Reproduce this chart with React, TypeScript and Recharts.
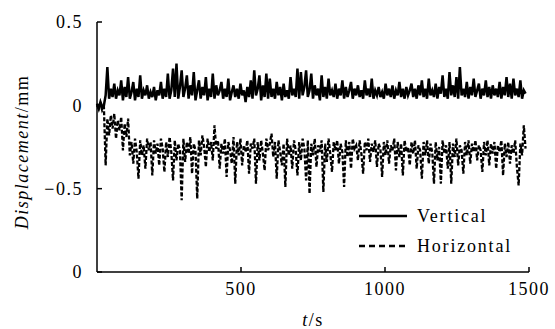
import React from "react";
import { LineChart, Line, XAxis, YAxis } from "recharts";

// sampled every 6 s, t = 0 .. 1488
const step = 6;

const vertical = [
  0.01, -0.02, 0.02, -0.01, 0.0, 0.06, 0.23, 0.04, 0.1, 0.05,
  0.13, 0.04, 0.09, 0.06, 0.15, 0.03, 0.11, 0.05, 0.17, 0.04,
  0.08, 0.14, 0.03, 0.1, 0.05, 0.18, 0.04, 0.09, 0.06, 0.12,
  0.04, 0.08, 0.05, 0.11, 0.03, 0.09, 0.06, 0.14, 0.04, 0.1,
  0.05, 0.19, 0.04, 0.09, 0.22, 0.05, 0.25, 0.04, 0.11, 0.21,
  0.05, 0.1, 0.18, 0.04, 0.12, 0.06, 0.2, 0.03, 0.09, 0.15,
  0.04, 0.11, 0.06, 0.17, 0.03, 0.1, 0.05, 0.19, 0.04, 0.12,
  0.06, 0.09, 0.14, 0.04, 0.1, 0.05, 0.16, 0.03, 0.08, 0.12,
  0.05, 0.1, 0.04, 0.13, 0.06, 0.09, 0.02, 0.11, 0.05, 0.15,
  0.04, 0.21, 0.06, 0.1, 0.18, 0.03, 0.12, 0.05, 0.19, 0.04,
  0.16, 0.05, 0.1, 0.04, 0.14, 0.06, 0.11, 0.03, 0.13, 0.05,
  0.09, 0.04, 0.17, 0.06, 0.1, 0.05, 0.22, 0.04, 0.2, 0.06,
  0.11, 0.21, 0.05, 0.09, 0.19, 0.04, 0.12, 0.06, 0.1, 0.03,
  0.18, 0.05, 0.11, 0.04, 0.16, 0.06, 0.09, 0.05, 0.13, 0.04,
  0.1, 0.06, 0.15, 0.04, 0.11, 0.05, 0.09, 0.14, 0.04, 0.1,
  0.06, 0.12, 0.05, 0.09, 0.04, 0.15, 0.06, 0.1, 0.05, 0.16,
  0.04, 0.09, 0.06, 0.11, 0.05, 0.08, 0.04, 0.13, 0.06, 0.1,
  0.05, 0.12, 0.04, 0.09, 0.06, 0.14, 0.05, 0.1, 0.04, 0.11,
  0.06, 0.09, 0.13, 0.05, 0.1, 0.04, 0.12, 0.06, 0.15, 0.05,
  0.1, 0.04, 0.16, 0.06, 0.09, 0.05, 0.13, 0.04, 0.11, 0.07,
  0.18, 0.05, 0.1, 0.04, 0.2, 0.06, 0.12, 0.05, 0.17, 0.04,
  0.23, 0.06, 0.1, 0.05, 0.14, 0.04, 0.11, 0.06, 0.16, 0.05,
  0.09, 0.13, 0.04, 0.1, 0.06, 0.15, 0.05, 0.11, 0.04, 0.12,
  0.06, 0.1, 0.05, 0.14, 0.04, 0.11, 0.06, 0.17, 0.05, 0.13,
  0.04, 0.16, 0.06, 0.1, 0.05, 0.15, 0.04, 0.09, 0.07,
];

const horizontal = [
  0.0, -0.02, 0.01, -0.03, -0.01, -0.36, -0.08, -0.18, -0.06, -0.14,
  -0.05, -0.2, -0.09, -0.15, -0.07, -0.27, -0.11, -0.19, -0.08, -0.3,
  -0.22, -0.35, -0.2, -0.28, -0.44, -0.21, -0.3, -0.24, -0.38, -0.2,
  -0.27, -0.22, -0.42, -0.21, -0.29, -0.23, -0.36, -0.2, -0.26, -0.4,
  -0.22, -0.31, -0.19, -0.28, -0.45, -0.21, -0.33, -0.23, -0.27, -0.57,
  -0.2, -0.34, -0.22, -0.29, -0.19, -0.41, -0.23, -0.27, -0.56, -0.21,
  -0.3, -0.18, -0.25, -0.37, -0.2, -0.28, -0.22, -0.33, -0.12, -0.26,
  -0.21, -0.38, -0.23, -0.29, -0.2, -0.43, -0.22, -0.27, -0.35, -0.19,
  -0.47, -0.22, -0.3, -0.2, -0.36, -0.24, -0.28, -0.21, -0.41, -0.23,
  -0.26, -0.2, -0.47, -0.22, -0.33, -0.21, -0.29, -0.39, -0.2, -0.27,
  -0.23, -0.17, -0.31, -0.22, -0.44, -0.21, -0.28, -0.36, -0.23, -0.49,
  -0.2, -0.3, -0.24, -0.38, -0.21, -0.27, -0.42, -0.22, -0.33, -0.2,
  -0.26, -0.45, -0.21, -0.53, -0.23, -0.3, -0.2, -0.37, -0.24, -0.28,
  -0.21, -0.52, -0.23, -0.34, -0.2, -0.29, -0.4, -0.22, -0.27, -0.21,
  -0.35, -0.23, -0.28, -0.49, -0.21, -0.31, -0.22, -0.38, -0.2, -0.26,
  -0.24, -0.33, -0.21, -0.29, -0.41, -0.22, -0.27, -0.2, -0.34, -0.23,
  -0.28, -0.21, -0.37, -0.23, -0.26, -0.43, -0.22, -0.3, -0.21, -0.35,
  -0.24, -0.27, -0.2, -0.39, -0.22, -0.31, -0.23, -0.42, -0.21, -0.28,
  -0.25, -0.36, -0.22, -0.29, -0.21, -0.38, -0.24, -0.27, -0.44, -0.22,
  -0.3, -0.21, -0.35, -0.23, -0.28, -0.47, -0.22, -0.33, -0.25, -0.47,
  -0.21, -0.29, -0.24, -0.38, -0.22, -0.47, -0.23, -0.31, -0.2, -0.36,
  -0.24, -0.27, -0.41, -0.22, -0.3, -0.21, -0.35, -0.23, -0.28, -0.21,
  -0.33, -0.24, -0.27, -0.4, -0.22, -0.3, -0.21, -0.36, -0.23, -0.29,
  -0.22, -0.38, -0.24, -0.28, -0.21, -0.42, -0.23, -0.31, -0.22, -0.35,
  -0.24, -0.29, -0.21, -0.37, -0.48, -0.23, -0.3, -0.12, -0.26,
];

const xTicks = [500, 1000, 1500];
const yTicks = [-1, -0.5, 0, 0.5];

const data = vertical.map((v, i) => ({ t: i * step, vertical: v, horizontal: horizontal[i] }));

const font = '"Liberation Serif", "Times New Roman", serif';
const tickStyle = { fontFamily: font, fontSize: 18, fill: "#000", letterSpacing: 1.5 };

// the original figure prints "0" at the bottom of the y axis
const fmtY = (v: number) => (v === -1 ? "0" : v < 0 ? "\u2212" + Math.abs(v) : String(v));

function LegendBox() {
  const row = (dash: string | undefined, label: string) => (
    <div style={{ display: "flex", alignItems: "center", height: 30 }}>
      <svg width={52} height={10}>
        <line x1={2} y1={5} x2={50} y2={5} stroke="#000" strokeWidth={2.5} strokeDasharray={dash} />
      </svg>
      <span style={{ marginLeft: 8, fontFamily: font, fontSize: 18, letterSpacing: 1.8, color: "#000" }}>{label}</span>
    </div>
  );
  return (
    <div style={{ position: "absolute", left: 357, top: 201 }}>
      {row(undefined, "Vertical")}
      {row("6 4", "Horizontal")}
    </div>
  );
}

export default function App() {
  return (
    <div style={{ position: "absolute", left: 0, top: 0, width: 555, height: 329, background: "#fff" }}>
      <LineChart width={555} height={329} data={data} margin={{ top: 22, right: 26, bottom: 0, left: 0 }}>
        <XAxis
          dataKey="t"
          type="number"
          domain={[0, 1500]}
          ticks={xTicks}
          height={57}
          tickSize={-5}
          tickMargin={15}
          axisLine={{ stroke: "#000", strokeWidth: 1.5 }}
          tickLine={{ stroke: "#000", strokeWidth: 1.5 }}
          tick={tickStyle}
          label={{
            content: () => (
              <text x={313} y={326} textAnchor="middle" fontFamily={font} fontSize={18} letterSpacing={1.5}>
                <tspan fontStyle="italic">t</tspan>/s
              </text>
            ),
          }}
        />
        <YAxis
          type="number"
          domain={[-1, 0.5]}
          ticks={yTicks}
          width={97}
          tickSize={-5}
          tickMargin={19}
          tickFormatter={fmtY}
          axisLine={{ stroke: "#000", strokeWidth: 1.5 }}
          tickLine={{ stroke: "#000", strokeWidth: 1.5 }}
          tick={tickStyle}
          label={{
            content: () => (
              <text
                x={28}
                y={152}
                transform="rotate(-90 28 152)"
                textAnchor="middle"
                fontFamily={font}
                fontSize={18}
                letterSpacing={1.5}
              >
                <tspan fontStyle="italic">Displacement</tspan>/mm
              </text>
            ),
          }}
        />
        <Line dataKey="vertical" stroke="#000" strokeWidth={2.5} dot={false} type="linear" isAnimationActive={false} />
        <Line
          dataKey="horizontal"
          stroke="#000"
          strokeWidth={2.3}
          strokeDasharray="4 2"
          dot={false}
          type="linear"
          isAnimationActive={false}
        />
      </LineChart>
      <LegendBox />
    </div>
  );
}
